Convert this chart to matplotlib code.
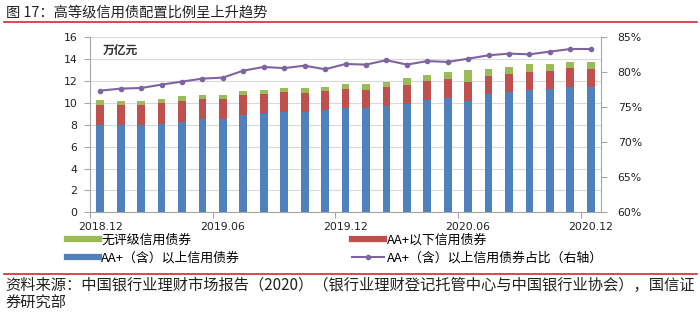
import matplotlib.pyplot as plt
from matplotlib.lines import Line2D
from matplotlib.ticker import FuncFormatter

plt.rcParams['font.family'] = ['Noto Sans CJK SC', 'DejaVu Sans']

# 月度数据 2018.12-2020.12，单位：万亿元
months = ['2018.12', '2019.01', '2019.02', '2019.03', '2019.04', '2019.05', '2019.06',
          '2019.07', '2019.08', '2019.09', '2019.10', '2019.11', '2019.12',
          '2020.01', '2020.02', '2020.03', '2020.04', '2020.05', '2020.06',
          '2020.07', '2020.08', '2020.09', '2020.10', '2020.11', '2020.12']
aa_plus_above = [8.0, 8.0, 8.0, 8.1, 8.3, 8.5, 8.5, 8.93, 9.05, 9.18, 9.18, 9.33, 9.57,
                 9.57, 9.76, 9.9, 10.27, 10.46, 10.2, 10.8, 10.98, 11.19, 11.25, 11.46, 11.43]
below_aa_plus = [1.85, 1.8, 1.8, 1.9, 1.9, 1.87, 1.9, 1.83, 1.8, 1.82, 1.72, 1.77, 1.73,
                 1.63, 1.67, 1.7, 1.73, 1.7, 1.7, 1.7, 1.62, 1.68, 1.71, 1.71, 1.67]
unrated = [0.45, 0.4, 0.4, 0.4, 0.4, 0.33, 0.3, 0.34, 0.35, 0.37, 0.47, 0.4, 0.47,
           0.57, 0.52, 0.65, 0.56, 0.64, 1.1, 0.58, 0.66, 0.67, 0.61, 0.61, 0.65]
# AA+（含）以上占比（%）
ratio = [77.38, 77.67, 77.76, 78.24, 78.67, 79.1, 79.24, 80.24, 80.76, 80.6, 80.95, 80.43,
         81.19, 81.1, 81.73, 81.1, 81.6, 81.48, 81.95, 82.43, 82.67, 82.57, 82.95, 83.33, 83.33]

c_blue = '#4F81BD'
c_red = '#C0504D'
c_green = '#9BBB59'
c_purple = '#8064A2'
c_grid = '#D9D9D9'
c_axis = '#A6A6A6'

fig = plt.figure(figsize=(7, 3.21), dpi=100)
ax = fig.add_axes([0.1286, 0.3386, 0.7300, 0.5452])

x = list(range(len(months)))
w = 0.38
bottom2 = [a + b for a, b in zip(aa_plus_above, below_aa_plus)]
ax.bar(x, aa_plus_above, w, color=c_blue, zorder=2)
ax.bar(x, below_aa_plus, w, bottom=aa_plus_above, color=c_red, zorder=2)
ax.bar(x, unrated, w, bottom=bottom2, color=c_green, zorder=2)

ax.set_xlim(-0.5, len(months) - 0.5)
ax.set_ylim(0, 16)
ax.set_yticks(range(0, 17, 2))
ax.yaxis.grid(True, color=c_grid, lw=0.8)
ax.set_axisbelow(True)
for s in ['top', 'right']:
    ax.spines[s].set_visible(False)
for s in ['left', 'bottom']:
    ax.spines[s].set_color(c_axis)
    ax.spines[s].set_linewidth(0.8)

# 标签每6个月一个，刻度线放在类别边界
ax.set_xticks(x[::6])
ax.set_xticklabels(months[::6])
ax.set_xticks([i - 0.5 for i in x[::6]], minor=True)
ax.tick_params(axis='x', which='major', length=0, pad=7, labelsize=7.8, colors='#222222')
ax.tick_params(axis='x', which='minor', length=4, color=c_axis, width=0.8)
ax.tick_params(axis='y', length=4, color=c_axis, width=0.8, pad=5, labelsize=7.8, colors='#222222')
for lab in ax.get_xticklabels() + ax.get_yticklabels():
    lab.set_family('DejaVu Sans')

ax.text(0.025, 0.925, '万亿元', transform=ax.transAxes, fontsize=8.5,
        fontweight='bold', color='#333333', va='center')

ax2 = ax.twinx()
ax2.plot(x, ratio, color=c_purple, lw=1.5, marker='o', ms=3, zorder=3)
ax2.set_ylim(60, 85)
ax2.set_yticks(range(60, 86, 5))
ax2.yaxis.set_major_formatter(FuncFormatter(lambda v, p: '%d%%' % v))
ax2.tick_params(axis='y', length=4, color=c_axis, width=0.8, pad=8, labelsize=7.8, colors='#222222')
for lab in ax2.get_yticklabels():
    lab.set_family('DejaVu Sans')
for s in ['top', 'left', 'bottom']:
    ax2.spines[s].set_visible(False)
ax2.spines['right'].set_color(c_axis)
ax2.spines['right'].set_linewidth(0.8)

# 图例：左右两列
leg_kw = dict(loc='upper left', frameon=False, fontsize=9.3, handlelength=2.5,
              handletextpad=0.2, labelspacing=0.4, borderaxespad=0, borderpad=0)
fig.legend([Line2D([], [], color=c_green, lw=4.5), Line2D([], [], color=c_blue, lw=4.5)],
           ['无评级信用债券', 'AA+（含）以上信用债券'],
           bbox_to_anchor=(0.095, 0.272), **leg_kw)
fig.legend([Line2D([], [], color=c_red, lw=4.5),
            Line2D([], [], color=c_purple, lw=1.5, marker='o', ms=3)],
           ['AA+以下信用债券', 'AA+（含）以上信用债券占比（右轴）'],
           bbox_to_anchor=(0.503, 0.272), **leg_kw)

# 标题与来源
fig.text(0.008, 0.962, '图 17：高等级信用债配置比例呈上升趋势', fontsize=10.3,
         color='#222222', va='center', ha='left')
fig.add_artist(Line2D([0.006, 0.996], [0.932, 0.932], color='#D9262B', lw=1.2))
fig.add_artist(Line2D([0.006, 0.996], [0.145, 0.145], color='#D9262B', lw=1.2))
fig.text(0.008, 0.112, '资料来源：中国银行业理财市场报告（2020）（银行业理财登记托管中心与中国银行业协会），国信证',
         fontsize=11, color='#222222', va='center', ha='left')
fig.text(0.008, 0.056, '券研究部', fontsize=11, color='#222222', va='center', ha='left')

fig.savefig('out.png', dpi=100, facecolor='white')
